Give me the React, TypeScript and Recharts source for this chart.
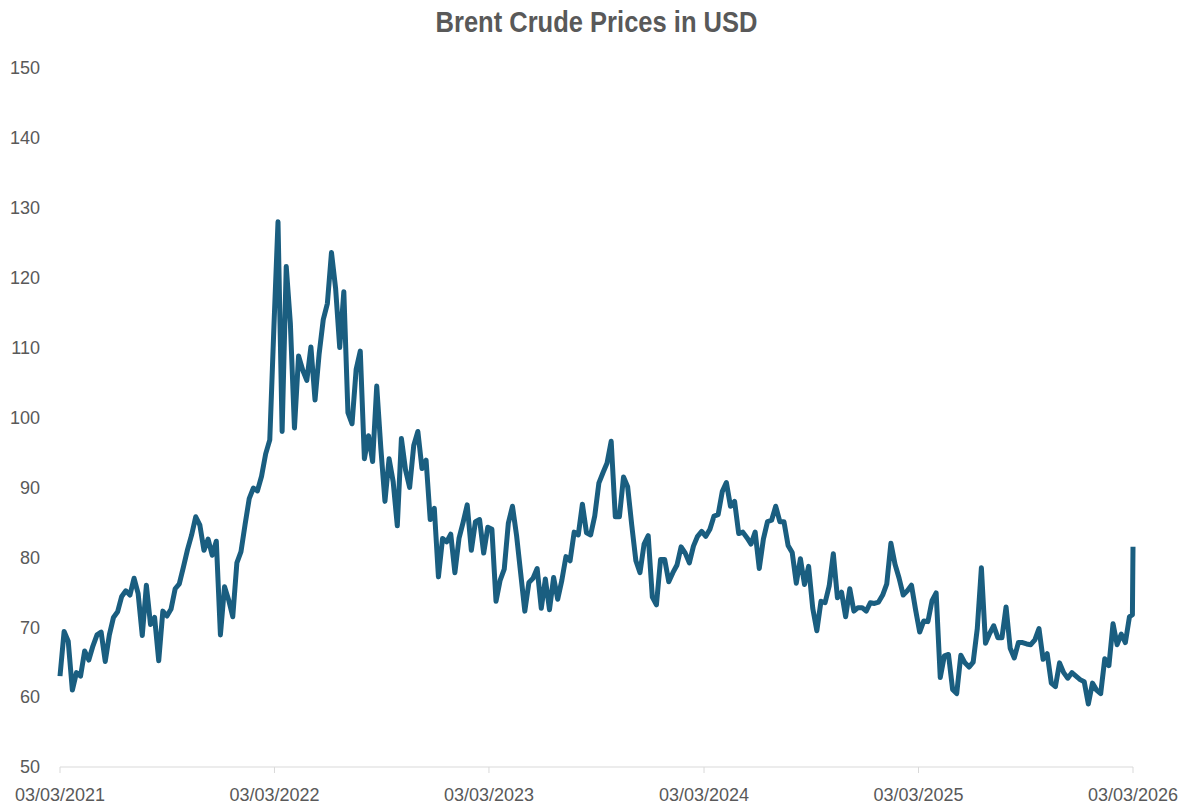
import { LineChart, Line, XAxis, YAxis } from 'recharts';

// weekly closes (Wednesdays), first one on 2021-03-03
const START_DATE = '2021-03-03';

const prices2021 = [
  63.0, 69.4, 68.0, 61.0, 63.5,
  63.0, 66.6, 65.3, 67.3,
  68.9, 69.3, 65.1, 68.9,
  71.4, 72.2, 74.4, 75.2, 74.6,
  77.0, 74.8, 68.8, 76.0,
  70.4, 71.4, 65.2, 72.3,
  71.6, 72.6, 75.5, 76.2, 78.6,
  81.1, 83.2, 85.8, 84.6,
  81.0, 82.6, 80.3, 82.3,
  68.9, 75.8, 73.9, 71.5, 79.2,
];

const prices2022 = [
  80.8, 84.7, 88.4, 89.9,
  89.5, 91.6, 94.8, 96.8,
  112.9, 128.0, 98.0, 121.6, 113.5,
  98.5, 108.8, 106.8, 105.3,
  110.1, 102.5, 109.1, 114.0,
  116.3, 123.6, 118.5, 110.0, 118.0,
  100.7, 99.1, 106.9, 109.5,
  94.1, 97.4, 93.7, 104.5, 95.6,
  88.0, 94.1, 90.8, 84.5,
  97.0, 92.5, 90.0, 96.0,
  98.0, 92.7, 93.9, 85.4, 87.0,
  77.2, 82.7, 82.2, 83.3,
];

const prices2023 = [
  77.8, 82.7, 85.0, 87.5,
  81.0, 85.1, 85.4, 80.6,
  84.3, 84.0, 73.7, 76.7, 78.3,
  84.9, 87.3, 83.1, 77.7,
  72.3, 76.4, 77.0, 78.4, 72.7,
  76.9, 72.5, 77.1, 74.0,
  76.7, 80.1, 79.5, 83.6,
  83.2, 87.6, 83.5, 83.2, 85.9,
  90.6, 92.1, 93.5, 96.6,
  85.8, 85.8, 91.5, 90.1,
  84.6, 79.5, 77.8, 81.9, 83.1,
  74.3, 73.2, 79.7, 79.7,
];

const prices2024 = [
  76.5, 77.8, 78.9, 81.5, 80.6,
  79.2, 81.6, 83.0, 83.7,
  83.0, 84.0, 85.9, 86.1,
  89.4, 90.7, 87.3, 88.0,
  83.4, 83.6, 82.8, 81.9, 83.6,
  78.4, 82.6, 85.1, 85.3,
  87.3, 85.1, 85.1, 81.7, 80.7,
  76.3, 79.8, 76.1, 78.7,
  72.7, 69.5, 73.7, 73.5,
  75.9, 80.5, 74.2, 75.0, 71.5,
  75.5, 72.3, 72.8, 72.8,
  72.3, 73.5, 73.4, 73.6,
];

const prices2025 = [
  74.6, 76.2, 82.0, 79.0, 77.0,
  74.6, 75.2, 76.0, 72.5,
  69.3, 70.9, 70.8, 73.8,
  74.9, 62.8, 65.9, 66.1, 61.1,
  60.5, 66.0, 64.9, 64.3,
  65.0, 69.8, 78.5, 67.7,
  69.1, 70.2, 68.5, 68.5, 72.9,
  67.0, 65.6, 67.8, 67.8,
  67.6, 67.5, 68.2, 69.8,
  65.4, 66.2, 62.0, 61.5, 64.9,
  63.5, 62.7, 63.5, 63.0,
  62.5, 62.2, 59.0, 62.0, 61.0,
];

const prices2026 = [60.5, 65.5, 64.5, 70.5, 67.5, 69.0, 67.8, 71.5];

// last couple of days, off the weekly grid
const finalDates = ['2026-03-02', '2026-03-03'];
const finalPrices = [71.8, 81.5];

const xTickLabels = ['03/03/2021', '03/03/2022', '03/03/2023', '03/03/2024', '03/03/2025', '03/03/2026'];
const yTicks = [50, 60, 70, 80, 90, 100, 110, 120, 130, 140, 150];

const DAY = 86400000;
const isoTime = (s: string) => Date.parse(s + 'T00:00:00Z');
const labelTime = (s: string) => {
  const [d, m, y] = s.split('/').map(Number);
  return Date.UTC(y, m - 1, d);
};

const weekly = [...prices2021, ...prices2022, ...prices2023, ...prices2024, ...prices2025, ...prices2026];

const data = [
  ...weekly.map((price, i) => ({ t: isoTime(START_DATE) + i * 7 * DAY, price })),
  ...finalDates.map((d, i) => ({ t: isoTime(d), price: finalPrices[i] })),
];

const xTicks = xTickLabels.map(labelTime);
const labelFor = (t: number) => xTickLabels[xTicks.indexOf(t)] ?? '';

const TEXT = '#595959';
const FONT = "'Liberation Sans', Arial, sans-serif";

export default function App() {
  return (
    <div style={{ position: 'absolute', left: 0, top: 0, width: 1189, height: 805, background: '#fff' }}>
      {/* title is a condensed bold face in the original, squeeze it a bit */}
      <div
        style={{
          position: 'absolute',
          top: 8,
          left: 60,
          width: 1073,
          textAlign: 'center',
          fontFamily: FONT,
          fontWeight: 700,
          fontSize: 29,
          lineHeight: '29px',
          color: TEXT,
          transform: 'scaleX(0.88)',
        }}
      >
        Brent Crude Prices in USD
      </div>
      <LineChart width={1189} height={805} data={data} margin={{ top: 68, right: 56, left: 0, bottom: 0 }}>
        <XAxis
          dataKey="t"
          type="number"
          scale="time"
          domain={[xTicks[0], xTicks[xTicks.length - 1]]}
          ticks={xTicks}
          tickFormatter={labelFor}
          height={38}
          stroke="#d9d9d9"
          tickSize={6}
          tickMargin={15}
          tick={{ fill: TEXT, fontSize: 18, fontFamily: FONT }}
        />
        <YAxis
          domain={[50, 150]}
          ticks={yTicks}
          width={60}
          axisLine={false}
          tickLine={false}
          tickSize={6}
          tickMargin={14}
          tick={{ fill: TEXT, fontSize: 18, fontFamily: FONT }}
        />
        <Line
          type="linear"
          dataKey="price"
          stroke="#1a5e80"
          strokeWidth={5}
          strokeLinejoin="round"
          dot={false}
          isAnimationActive={false}
        />
      </LineChart>
    </div>
  );
}
